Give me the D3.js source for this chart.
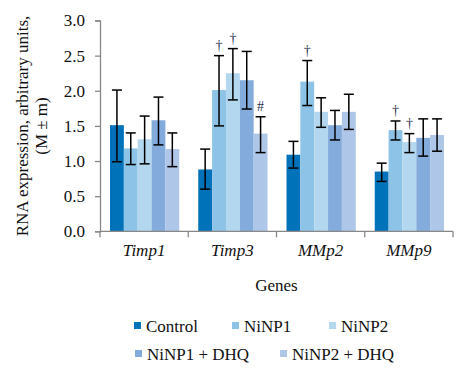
<!DOCTYPE html>
<meta charset="utf-8">
<head>
  <title>RNA expression bars</title>
</head>
<body style="margin:0; background:#fff">
<svg width="472" height="377"></svg>
<script src="https://cdn.jsdelivr.net/npm/d3@7"></script>
<script>
var genes = ['Timp1', 'Timp3', 'MMp2', 'MMp9'];
var groups = ['Control', 'NiNP1', 'NiNP2', 'NiNP1 + DHQ', 'NiNP2 + DHQ'];
var colors = ['#0072b9', '#8dc3e6', '#b3d7ef', '#83acdc', '#aec6e8'];

// mean per gene, one array per group
var control  = [1.51, 0.88, 1.09, 0.85];
var ninp1    = [1.18, 2.01, 2.13, 1.44];
var ninp2    = [1.31, 2.25, 1.70, 1.27];
var ninp1dhq = [1.58, 2.15, 1.51, 1.33];
var ninp2dhq = [1.17, 1.39, 1.70, 1.37];
// error bar low / high
var errLow  = [[0.99, 0.60, 0.90, 0.71], [0.95, 1.50, 1.79, 1.30], [0.96, 1.87, 1.48, 1.12], [1.23, 1.74, 1.30, 1.07], [0.92, 1.12, 1.45, 1.14]];
var errHigh = [[2.01, 1.17, 1.28, 0.97], [1.40, 2.50, 2.43, 1.57], [1.64, 2.60, 1.90, 1.39], [1.91, 2.56, 1.72, 1.60], [1.40, 1.63, 1.95, 1.60]];
// significance marks: [gene index, group index, symbol]
var marks = [[1, 1, '\u2020'], [1, 2, '\u2020'], [1, 4, '#'], [2, 1, '\u2020'], [3, 1, '\u2020'], [3, 2, '\u2020']];
var yTicks = [0, 0.5, 1, 1.5, 2, 2.5, 3];

var series = [control, ninp1, ninp2, ninp1dhq, ninp2dhq];

var svg = d3.select('svg');
var plotLeft = 100, plotRight = 453, plotTop = 20.5, plotBottom = 231.3;

function serif(sel, size) {
  return sel.style('font-family', "'Liberation Serif'").style('font-size', (size || 17) + 'px').style('fill', '#111');
}

var x0 = d3.scaleBand().domain(genes).range([plotLeft, plotRight]);
var x1 = d3.scaleBand().domain(d3.range(groups.length)).range([10, x0.bandwidth() - 9]);
var y = d3.scaleLinear().domain([0, 3]).range([plotBottom, plotTop]);

var rows = [];
genes.forEach(function(g, gi) {
  series.forEach(function(s, si) {
    rows.push({ gene: g, gi: gi, si: si, v: s[gi], lo: errLow[si][gi], hi: errHigh[si][gi] });
  });
});

// y axis
var yAxis = svg.append('g')
  .attr('transform', 'translate(' + plotLeft + ',0)')
  .call(d3.axisLeft(y).tickValues(yTicks).tickFormat(d3.format('.1f')).tickSizeOuter(0).tickSize(5).tickPadding(10));
serif(yAxis.selectAll('text'));
yAxis.selectAll('path, line').attr('stroke', '#888').attr('stroke-width', 1.3);

// bars
svg.append('g').selectAll('rect')
  .data(rows).enter().append('rect')
  .attr('x', function(d) { return x0(d.gene) + x1(d.si); })
  .attr('width', x1.bandwidth())
  .attr('y', function(d) { return y(d.v); })
  .attr('height', function(d) { return y(0) - y(d.v); })
  .attr('fill', function(d) { return colors[d.si]; });

// error bars
var eb = svg.append('g').attr('stroke', '#000').attr('stroke-width', 1.5);
rows.forEach(function(d) {
  var cx = x0(d.gene) + x1(d.si) + x1.bandwidth() / 2;
  eb.append('line').attr('x1', cx).attr('x2', cx).attr('y1', y(d.lo)).attr('y2', y(d.hi));
  eb.append('line').attr('x1', cx - 5).attr('x2', cx + 5).attr('y1', y(d.lo)).attr('y2', y(d.lo));
  eb.append('line').attr('x1', cx - 5).attr('x2', cx + 5).attr('y1', y(d.hi)).attr('y2', y(d.hi));
});

// significance marks
serif(svg.append('g').selectAll('text')
  .data(marks).enter().append('text')
  .attr('x', function(m) { return x0(genes[m[0]]) + x1(m[1]) + x1.bandwidth() / 2; })
  .attr('y', function(m) { return y(errHigh[m[1]][m[0]]) - 6; })
  .attr('text-anchor', 'middle')
  .text(function(m) { return m[2]; }), 14).style('fill', '#2b3550');

// x axis
var xAxis = svg.append('g').attr('stroke', '#888').attr('stroke-width', 1.3)
  .attr('transform', 'translate(0,' + plotBottom + ')');
xAxis.append('line').attr('x1', plotLeft).attr('x2', plotRight).attr('y1', 0).attr('y2', 0);
xAxis.selectAll('.tk').data(genes.concat(['end'])).enter().append('line')
  .attr('class', 'tk')
  .attr('x1', function(d, i) { return plotLeft + i * x0.bandwidth(); })
  .attr('x2', function(d, i) { return plotLeft + i * x0.bandwidth(); })
  .attr('y1', 0).attr('y2', 6);
serif(svg.append('g').selectAll('text')
  .data(genes).enter().append('text')
  .attr('x', function(d) { return x0(d) + x0.bandwidth() / 2; })
  .attr('y', 256)
  .attr('text-anchor', 'middle')
  .text(function(d) { return d; })).style('font-style', 'italic');

serif(svg.append('text').attr('x', (plotLeft + plotRight) / 2).attr('y', 291)
  .attr('text-anchor', 'middle').text('Genes'));

// y label
var yl = serif(svg.append('text').attr('transform', 'translate(28,126) rotate(-90)')
  .attr('text-anchor', 'middle'));
yl.append('tspan').attr('x', 0).attr('y', 0).text('RNA expression, arbitrary units,');
yl.append('tspan').attr('x', 0).attr('y', 19).text('(M \u00b1 m)');

// legend
var legPos = [[134, 326], [232, 326], [329, 326], [135, 354], [280, 354]];
var leg = svg.append('g').selectAll('g')
  .data(groups).enter().append('g')
  .attr('transform', function(d, i) { return 'translate(' + legPos[i][0] + ',' + legPos[i][1] + ')'; });
leg.append('rect').attr('x', 0).attr('y', -4).attr('width', 7).attr('height', 7)
  .attr('fill', function(d, i) { return colors[i]; });
serif(leg.append('text').attr('x', 12).attr('y', 6)
  .text(function(d) { return d; }));
</script>
</body>
</html>
